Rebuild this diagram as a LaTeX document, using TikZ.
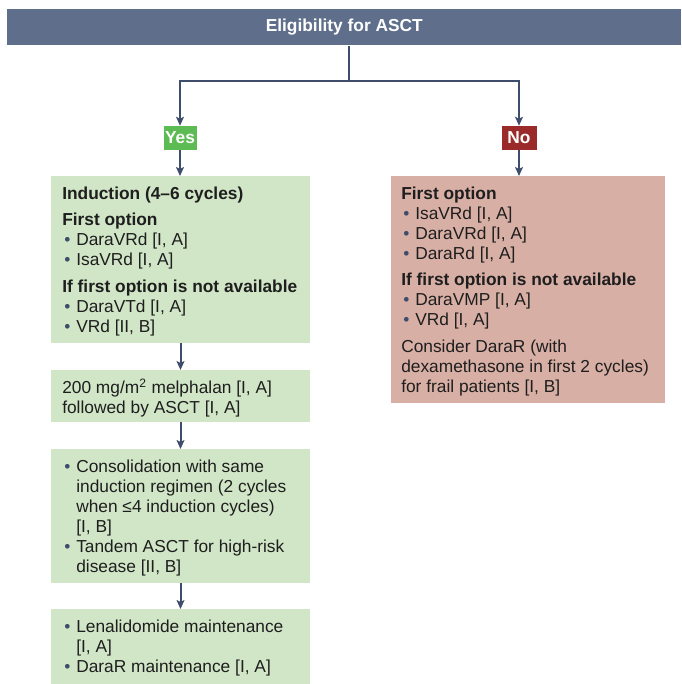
\documentclass[tikz,border=0pt]{standalone}
\usepackage{fontspec}
\setmainfont{Liberation Sans}
\usetikzlibrary{arrows.meta}
\definecolor{headblue}{HTML}{5F6F8B}
\definecolor{lineblue}{HTML}{3D4D6B}
\definecolor{yesgreen}{HTML}{5CBB53}
\definecolor{nored}{HTML}{9B2B2B}
\definecolor{boxgreen}{HTML}{D1E6C7}
\definecolor{boxred}{HTML}{D8AFA5}
\definecolor{txtcol}{HTML}{1E1E1E}
\newlength{\px}\setlength{\px}{0.75pt}% 1 pixel
\newcommand{\bul}{\makebox[14\px][l]{\hspace{2\px}{\color{lineblue}\fontsize{13}{13}\selectfont\textbullet}}}
\newcommand{\ind}{\hspace*{14\px}}
\begin{document}
\begin{tikzpicture}[x=1\px,y=-1\px,
    box/.style={minimum width=259\px,inner sep=0,outer sep=0,anchor=north west,fill=boxgreen},
    txt/.style={anchor=north west,inner sep=0,align=left,text=txtcol,font=\fontsize{13}{15}\selectfont},
    tag/.style={text=white,inner sep=0,minimum height=24\px,font=\bfseries\fontsize{13}{15}\selectfont},
    arr/.style={lineblue,line width=1.5pt,-{Stealth[length=6.75pt,width=6pt,inset=1.5pt]}}]
    \useasboundingbox (0,0) rectangle (681,684);
    \node[fill=headblue,minimum width=674\px,minimum height=36\px,anchor=north west,inner sep=0,
        text=white,font=\bfseries\fontsize{13}{15}\selectfont] (elig) at (7,9) {Eligibility for ASCT};
    \coordinate (split) at (349,81);
    \node[tag,fill=yesgreen,minimum width=33\px] (yes) at (180,138) {Yes};
    \node[tag,fill=nored,minimum width=35\px] (no) at (519,138) {No};
    % cac hop
    \path
    foreach \n/\y/\h in {ind/176/167,mel/370/52,con/449/134,mnt/609/75} {(51,\y) node[box,minimum height=\h\px] (\n) {}}
    (391,176) node[box,fill=boxred,minimum width=274\px,minimum height=227\px] (alt) {};
    % chu trong hop
    \node[txt] (indtxt) at ([shift={(11,9)}]ind.north west) {\strut\textbf{Induction (4–6 cycles)}\\[5pt]
        \textbf{First option}\\
        \bul DaraVRd [I, A]\\
        \bul IsaVRd [I, A]\\[5pt]
        \textbf{If first option is not available}\\
        \bul DaraVTd [I, A]\\
        \bul VRd [II, B]};
    \node[txt] (meltxt) at ([shift={(11,9)}]mel.north west) {\strut 200 mg/m\textsuperscript{2} melphalan [I, A]\\
        followed by ASCT [I, A]};
    \node[txt] (contxt) at ([shift={(11,9)}]con.north west) {\strut\bul Consolidation with same\\
        \ind induction regimen (2 cycles\\
        \ind when ≤4 induction cycles)\\
        \ind [I, B]\\
        \bul Tandem ASCT for high-risk\\
        \ind disease [II, B]};
    \node[txt] (mnttxt) at ([shift={(11,9)}]mnt.north west) {\strut\bul Lenalidomide maintenance\\
        \ind [I, A]\\
        \bul DaraR maintenance [I, A]};
    \node[txt] (alttxt) at ([shift={(10,9)}]alt.north west) {\strut\textbf{First option}\\
        \bul IsaVRd [I, A]\\
        \bul DaraVRd [I, A]\\
        \bul DaraRd [I, A]\\[5pt]
        \textbf{If first option is not available}\\
        \bul DaraVMP [I, A]\\
        \bul VRd [I, A]\\[5pt]
        Consider DaraR (with\\
        dexamethasone in first 2 cycles)\\
        for frail patients [I, B]};
    % mui ten
    \draw[lineblue,line width=1.5pt] (elig.south -| split)--(split);
    \draw[arr] (split)-|(yes.north);
    \draw[arr] (split)-|(no.north);
    \foreach \a/\b in {yes/ind,ind/mel,mel/con,con/mnt,no/alt} \draw[arr] (\a.south)--(\a.south |- \b.north);
\end{tikzpicture}
\end{document}
